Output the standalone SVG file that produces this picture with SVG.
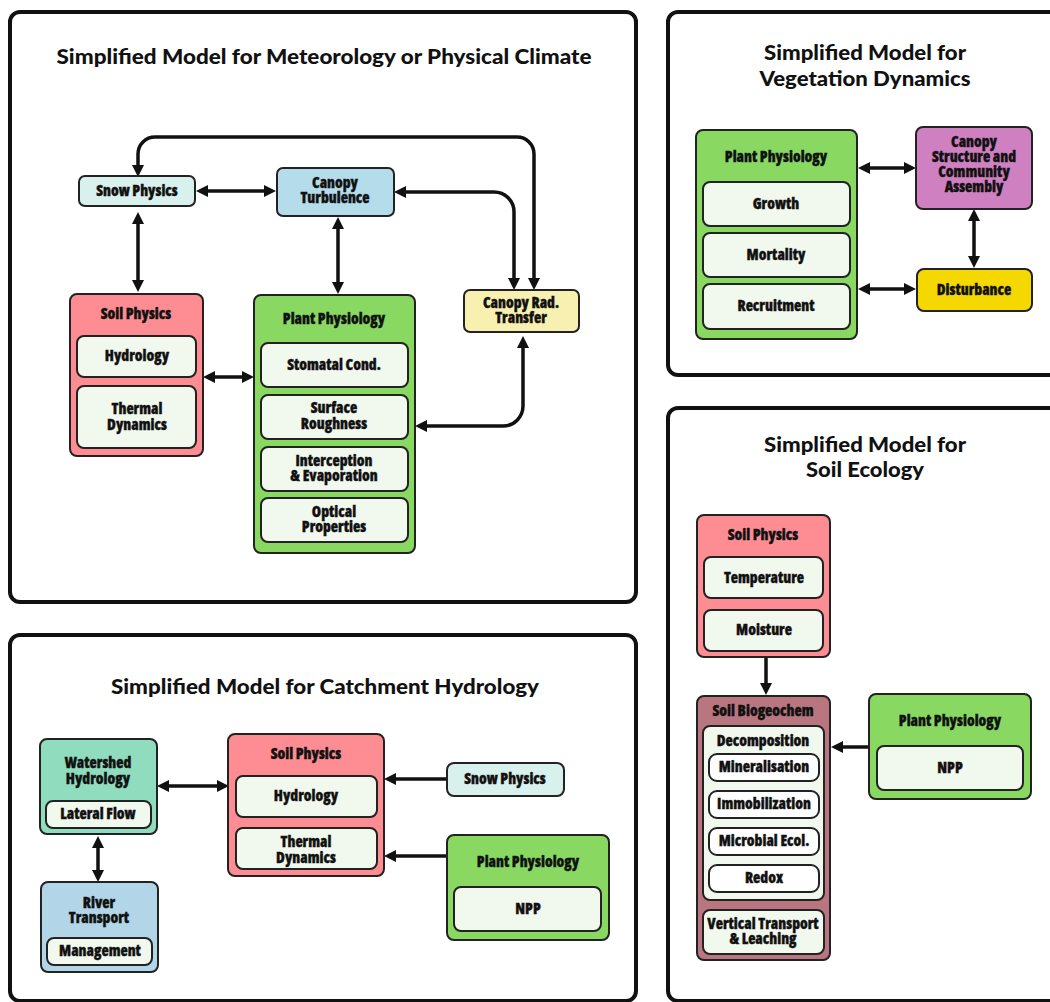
<svg xmlns="http://www.w3.org/2000/svg" width="1050" height="1002" viewBox="0 0 1050 1002">
<style>
.panel{fill:#fff;stroke:#111;stroke-width:4}
.node{stroke:#222;stroke-width:2}
.sub{fill:#f1f8ee;stroke:#222;stroke-width:2}
.wsub{fill:#fff;stroke:#222;stroke-width:2}
.lbl{font-family:"Open Sans","DejaVu Sans Condensed","Liberation Sans",sans-serif;font-stretch:75%;font-weight:800;font-size:15px;text-anchor:middle;fill:#111;stroke:#111;stroke-width:0.35}
.title{font-family:Lato,"Open Sans","Liberation Sans",sans-serif;font-weight:900;font-size:20px;text-anchor:middle;fill:#111}
.conn{fill:none;stroke:#111;stroke-width:3.5}
.bi{marker-start:url(#ah);marker-end:url(#ah)}
.uni{marker-end:url(#ah)}
.snow{fill:#d9f1ed}.turb{fill:#b5dcea}.soil{fill:#fd8d92}.plant{fill:#88d862}.rad{fill:#f8f0b0}
.canopy{fill:#cf80c0}.dist{fill:#f5d800}.bgc{fill:#b97680}.ws{fill:#8fdcbf}.river{fill:#b2d6e8}
</style>
<defs>
<marker id="ah" markerUnits="userSpaceOnUse" markerWidth="12" markerHeight="12" refX="1" refY="6" orient="auto-start-reverse">
<path d="M0,0 L12,6 L0,12 z" fill="#111"/>
</marker>
</defs>

<g id="panels">
<rect class="panel" x="10" y="12" width="626" height="590" rx="10"/>
<rect class="panel" x="668" y="12" width="400" height="363" rx="10"/>
<rect class="panel" x="668" y="408" width="400" height="593" rx="10"/>
<rect class="panel" x="10" y="635" width="626" height="366" rx="10"/>
<text class="title" x="324" y="64" textLength="535" lengthAdjust="spacingAndGlyphs">Simplified Model for Meteorology or Physical Climate</text>
<text class="title" x="865" y="60" textLength="202" lengthAdjust="spacingAndGlyphs">Simplified Model for</text>
<text class="title" x="865" y="86" textLength="211" lengthAdjust="spacingAndGlyphs">Vegetation Dynamics</text>
<text class="title" x="865" y="452" textLength="202" lengthAdjust="spacingAndGlyphs">Simplified Model for</text>
<text class="title" x="865" y="477" textLength="118" lengthAdjust="spacingAndGlyphs">Soil Ecology</text>
<text class="title" x="325" y="694" textLength="428" lengthAdjust="spacingAndGlyphs">Simplified Model for Catchment Hydrology</text>
</g>

<g id="connectors">
<path class="conn bi" d="M207,191 L265,191"/>
<path class="conn bi" d="M138,166 L138,154 A17,17 0 0 1 155,137 L517,137 A17,17 0 0 1 534,154 L534,279"/>
<path class="conn bi" d="M405,192 L494,192 A20,20 0 0 1 514,212 L514,279"/>
<path class="conn bi" d="M138,223 L138,281"/>
<path class="conn bi" d="M338,228 L338,283"/>
<path class="conn bi" d="M214,377 L243,377"/>
<path class="conn bi" d="M523,347 L523,406 A20,20 0 0 1 503,426 L426,426"/>
<path class="conn bi" d="M869,168 L905,168"/>
<path class="conn bi" d="M869,289 L905,289"/>
<path class="conn bi" d="M974,220 L974,257"/>
<path class="conn uni" d="M766,658 L766,684"/>
<path class="conn uni" d="M869,747 L842,747"/>
<path class="conn bi" d="M98,847 L98,871"/>
<path class="conn bi" d="M168,786 L218,786"/>
<path class="conn uni" d="M447,779 L395,779"/>
<path class="conn uni" d="M447,856 L395,856"/>
</g>

<g id="met-snow">
<rect class="node snow" x="79" y="176" width="116" height="30" rx="6"/>
<text class="lbl" x="137" y="196">Snow Physics</text>
</g>
<g id="met-turbulence">
<rect class="node turb" x="277" y="168" width="117" height="48" rx="6"/>
<text class="lbl" x="335" y="188">Canopy</text>
<text class="lbl" x="335" y="203">Turbulence</text>
</g>
<g id="met-soil">
<rect class="node soil" x="70" y="294" width="133" height="162" rx="7"/>
<text class="lbl" x="136" y="319">Soil Physics</text>
<rect class="sub" x="77" y="336" width="119" height="41" rx="7"/>
<text class="lbl" x="137" y="361">Hydrology</text>
<rect class="sub" x="77" y="386" width="119" height="62" rx="7"/>
<text class="lbl" x="137" y="414">Thermal</text>
<text class="lbl" x="137" y="430">Dynamics</text>
</g>
<g id="met-plant">
<rect class="node plant" x="254" y="295" width="161" height="258" rx="7"/>
<text class="lbl" x="334" y="324">Plant Physiology</text>
<rect class="sub" x="261" y="343" width="147" height="44" rx="7"/>
<text class="lbl" x="334" y="370">Stomatal Cond.</text>
<rect class="sub" x="261" y="395" width="147" height="44" rx="7"/>
<text class="lbl" x="334" y="413">Surface</text>
<text class="lbl" x="334" y="429">Roughness</text>
<rect class="sub" x="261" y="447" width="147" height="44" rx="7"/>
<text class="lbl" x="334" y="466">Interception</text>
<text class="lbl" x="334" y="481">&amp; Evaporation</text>
<rect class="sub" x="261" y="498" width="147" height="44" rx="7"/>
<text class="lbl" x="334" y="517">Optical</text>
<text class="lbl" x="334" y="532">Properties</text>
</g>
<g id="met-radtransfer">
<rect class="node rad" x="464" y="290" width="115" height="42" rx="6"/>
<text class="lbl" x="521" y="308">Canopy Rad.</text>
<text class="lbl" x="521" y="323">Transfer</text>
</g>

<g id="veg-plant">
<rect class="node plant" x="696" y="130" width="161" height="209" rx="7"/>
<text class="lbl" x="776" y="162">Plant Physiology</text>
<rect class="sub" x="703" y="182" width="147" height="44" rx="7"/>
<text class="lbl" x="776" y="209">Growth</text>
<rect class="sub" x="703" y="233" width="147" height="44" rx="7"/>
<text class="lbl" x="776" y="260">Mortality</text>
<rect class="sub" x="703" y="284" width="147" height="45" rx="7"/>
<text class="lbl" x="776" y="311">Recruitment</text>
</g>
<g id="veg-canopy">
<rect class="node canopy" x="916" y="127" width="116" height="82" rx="7"/>
<text class="lbl" x="974" y="147">Canopy</text>
<text class="lbl" x="974" y="162">Structure and</text>
<text class="lbl" x="974" y="177">Community</text>
<text class="lbl" x="974" y="192">Assembly</text>
</g>
<g id="veg-disturbance">
<rect class="node dist" x="917" y="269" width="115" height="42" rx="7"/>
<text class="lbl" x="974" y="295">Disturbance</text>
</g>

<g id="eco-soil">
<rect class="node soil" x="697" y="515" width="133" height="142" rx="7"/>
<text class="lbl" x="763" y="540">Soil Physics</text>
<rect class="sub" x="704" y="557" width="119" height="41" rx="7"/>
<text class="lbl" x="764" y="583">Temperature</text>
<rect class="sub" x="704" y="610" width="119" height="41" rx="7"/>
<text class="lbl" x="764" y="635">Moisture</text>
</g>
<g id="eco-biogeochem">
<rect class="node bgc" x="697" y="696" width="133" height="264" rx="7"/>
<text class="lbl" x="763" y="716">Soil Biogeochem</text>
<rect class="sub" x="703" y="726" width="121" height="174" rx="7"/>
<text class="lbl" x="763" y="746">Decomposition</text>
<rect class="wsub" x="709" y="754" width="110" height="27" rx="8"/>
<text class="lbl" x="764" y="772">Mineralisation</text>
<rect class="wsub" x="709" y="791" width="110" height="27" rx="8"/>
<text class="lbl" x="764" y="809">Immobilization</text>
<rect class="wsub" x="709" y="828" width="110" height="27" rx="8"/>
<text class="lbl" x="764" y="846">Microbial Ecol.</text>
<rect class="wsub" x="709" y="865" width="110" height="27" rx="8"/>
<text class="lbl" x="764" y="883">Redox</text>
<rect class="sub" x="703" y="910" width="121" height="44" rx="7"/>
<text class="lbl" x="763" y="929">Vertical Transport</text>
<text class="lbl" x="763" y="944">&amp; Leaching</text>
</g>
<g id="eco-plant">
<rect class="node plant" x="869" y="694" width="162" height="105" rx="7"/>
<text class="lbl" x="950" y="726">Plant Physiology</text>
<rect class="sub" x="877" y="746" width="146" height="44" rx="7"/>
<text class="lbl" x="950" y="773">NPP</text>
</g>

<g id="hyd-watershed">
<rect class="node ws" x="40" y="739" width="117" height="95" rx="7"/>
<text class="lbl" x="98" y="768">Watershed</text>
<text class="lbl" x="98" y="784">Hydrology</text>
<rect class="sub" x="46" y="801" width="105" height="27" rx="7"/>
<text class="lbl" x="98" y="819">Lateral Flow</text>
</g>
<g id="hyd-river">
<rect class="node river" x="41" y="882" width="117" height="90" rx="7"/>
<text class="lbl" x="99" y="908">River</text>
<text class="lbl" x="99" y="923">Transport</text>
<rect class="sub" x="47" y="938" width="105" height="27" rx="7"/>
<text class="lbl" x="100" y="956">Management</text>
</g>
<g id="hyd-soil">
<rect class="node soil" x="228" y="734" width="156" height="142" rx="7"/>
<text class="lbl" x="306" y="759">Soil Physics</text>
<rect class="sub" x="236" y="776" width="141" height="41" rx="7"/>
<text class="lbl" x="306" y="801">Hydrology</text>
<rect class="sub" x="236" y="828" width="141" height="41" rx="7"/>
<text class="lbl" x="306" y="847">Thermal</text>
<text class="lbl" x="306" y="863">Dynamics</text>
</g>
<g id="hyd-snow">
<rect class="node snow" x="447" y="763" width="117" height="33" rx="7"/>
<text class="lbl" x="505" y="784">Snow Physics</text>
</g>
<g id="hyd-plant">
<rect class="node plant" x="447" y="835" width="162" height="105" rx="7"/>
<text class="lbl" x="528" y="867">Plant Physiology</text>
<rect class="sub" x="454" y="887" width="147" height="44" rx="7"/>
<text class="lbl" x="528" y="914">NPP</text>
</g>
</svg>
